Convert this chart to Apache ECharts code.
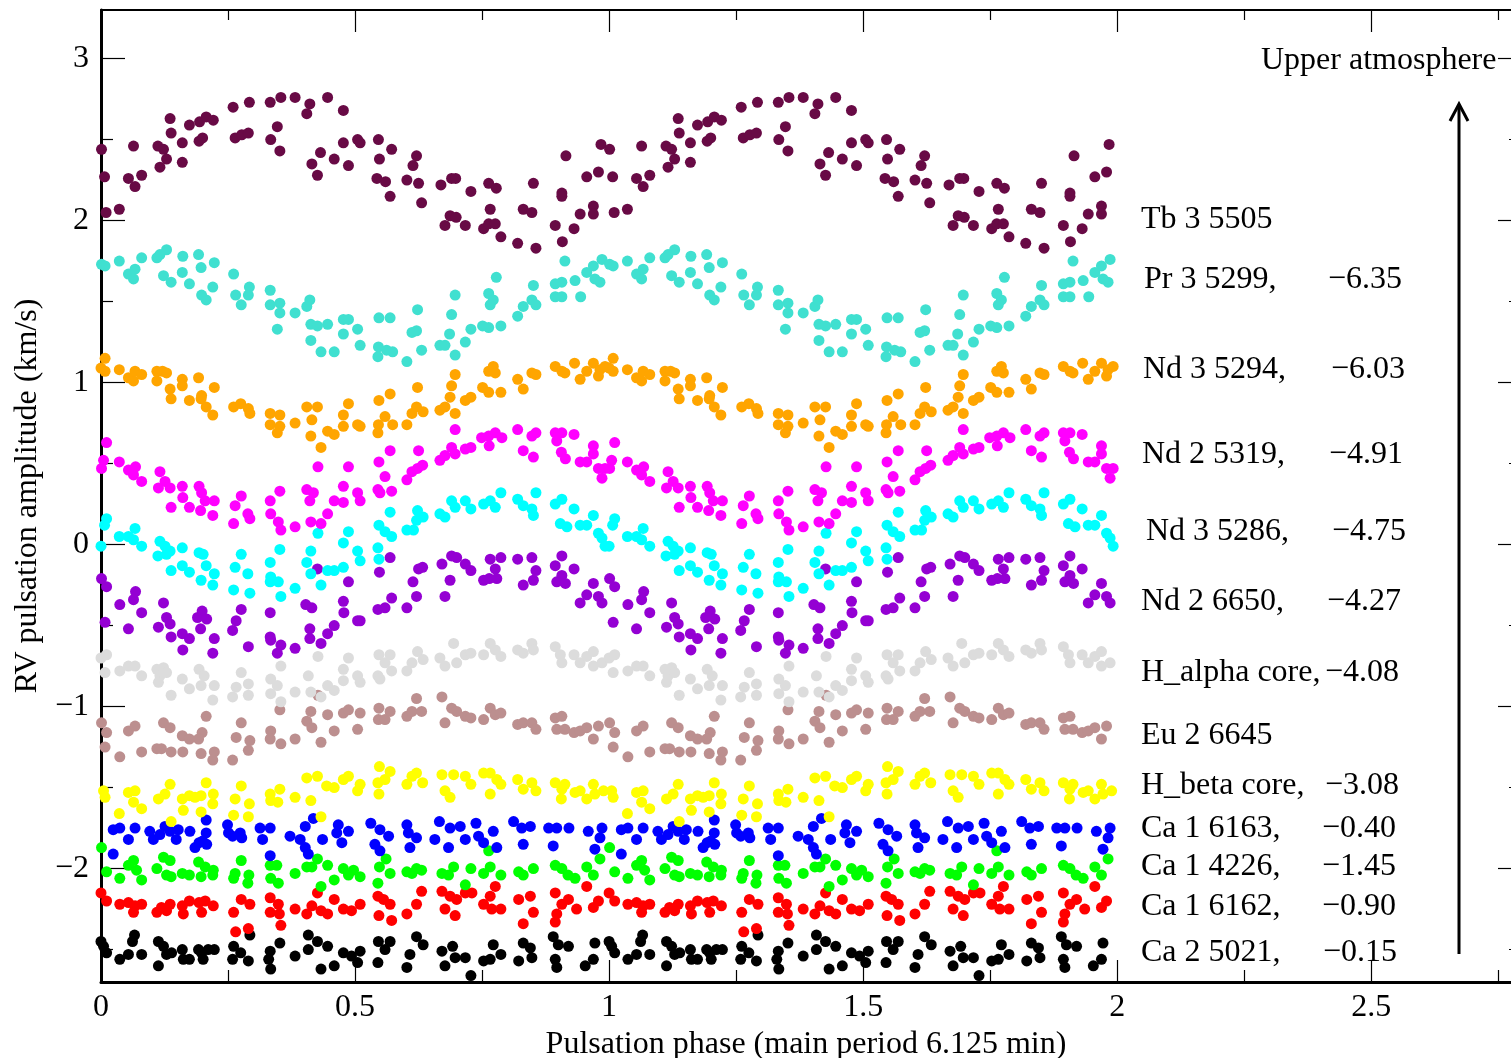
<!DOCTYPE html>
<html>
<head>
<meta charset="utf-8">
<script src="https://cdn.jsdelivr.net/npm/echarts@6/dist/echarts.min.js"></script>
<style>
  html, body { margin: 0; padding: 0; background: #fff; overflow: hidden; }
  #main { width: 1511px; height: 1058px; }
</style>
</head>
<body>
<div id="main"></div>
<script>
// one pulsation cycle per line, [phase, RV]; the plot shows it twice (phase 0-2)
const tb3_5505 = [[0.001,2.44],[0.007,2.27],[0.010,2.05],[0.036,2.07],[0.064,2.46],[0.054,2.26],[0.067,2.21],[0.080,2.28],[0.112,2.46],[0.123,2.44],[0.129,2.38],[0.116,2.33],[0.136,2.63],[0.138,2.54],[0.160,2.48],[0.160,2.36],[0.174,2.59],[0.194,2.61],[0.207,2.64],[0.221,2.62],[0.193,2.49],[0.200,2.51],[0.260,2.70],[0.292,2.73],[0.264,2.51],[0.277,2.53],[0.290,2.54],[0.333,2.73],[0.354,2.76],[0.382,2.76],[0.334,2.50],[0.347,2.58],[0.352,2.43],[0.411,2.72],[0.405,2.66],[0.446,2.76],[0.477,2.68],[0.415,2.35],[0.432,2.42],[0.426,2.28],[0.459,2.38],[0.477,2.48],[0.487,2.34],[0.505,2.50],[0.510,2.48],[0.546,2.50],[0.548,2.38],[0.572,2.44],[0.543,2.26],[0.560,2.24],[0.569,2.15],[0.602,2.25],[0.621,2.40],[0.614,2.34],[0.625,2.23],[0.631,2.11],[0.669,2.22],[0.690,2.26],[0.698,2.26],[0.728,2.18],[0.677,1.97],[0.687,2.03],[0.699,2.02],[0.717,1.97],[0.763,2.23],[0.778,2.20],[0.766,2.07],[0.753,1.95],[0.763,1.98],[0.776,1.98],[0.787,1.90],[0.820,1.86],[0.831,2.07],[0.848,2.05],[0.851,2.23],[0.856,1.83],[0.907,2.17],[0.907,2.15],[0.915,2.40],[0.894,1.97],[0.908,1.87],[0.931,1.95],[0.943,2.04],[0.956,2.27],[0.969,2.09],[0.969,2.04],[0.979,2.30],[0.984,2.47]];

const pr3_5299 = [[0.001,1.73],[0.008,1.72],[0.036,1.75],[0.054,1.67],[0.064,1.64],[0.067,1.70],[0.080,1.77],[0.110,1.77],[0.116,1.79],[0.129,1.82],[0.123,1.66],[0.138,1.62],[0.161,1.78],[0.160,1.68],[0.174,1.61],[0.192,1.79],[0.197,1.71],[0.223,1.74],[0.198,1.54],[0.207,1.51],[0.220,1.59],[0.261,1.67],[0.265,1.54],[0.276,1.48],[0.290,1.54],[0.292,1.59],[0.333,1.57],[0.333,1.48],[0.352,1.49],[0.352,1.43],[0.347,1.33],[0.382,1.43],[0.405,1.47],[0.411,1.51],[0.413,1.36],[0.426,1.35],[0.446,1.36],[0.433,1.19],[0.413,1.26],[0.459,1.19],[0.477,1.39],[0.487,1.39],[0.477,1.30],[0.505,1.33],[0.510,1.23],[0.547,1.40],[0.569,1.40],[0.546,1.22],[0.545,1.16],[0.562,1.20],[0.574,1.19],[0.602,1.13],[0.612,1.31],[0.621,1.32],[0.623,1.45],[0.631,1.20],[0.667,1.23],[0.677,1.23],[0.686,1.30],[0.690,1.42],[0.697,1.54],[0.697,1.17],[0.717,1.25],[0.728,1.33],[0.751,1.35],[0.763,1.34],[0.763,1.55],[0.772,1.51],[0.766,1.48],[0.778,1.65],[0.787,1.35],[0.820,1.41],[0.831,1.47],[0.848,1.51],[0.856,1.48],[0.851,1.60],[0.894,1.61],[0.907,1.62],[0.894,1.53],[0.907,1.53],[0.913,1.75],[0.933,1.63],[0.944,1.53],[0.956,1.68],[0.969,1.72],[0.972,1.64],[0.982,1.62],[0.986,1.76]];

const nd3_5294 = [[0.008,1.15],[0.000,1.09],[0.008,1.07],[0.036,1.08],[0.054,1.03],[0.064,1.01],[0.067,1.07],[0.080,1.05],[0.110,1.07],[0.110,1.01],[0.121,1.07],[0.129,1.06],[0.136,0.96],[0.138,0.90],[0.160,1.02],[0.160,0.98],[0.174,0.89],[0.192,1.03],[0.198,0.92],[0.197,0.90],[0.207,0.85],[0.223,0.97],[0.220,0.80],[0.261,0.85],[0.275,0.87],[0.290,0.84],[0.293,0.81],[0.333,0.81],[0.352,0.80],[0.333,0.74],[0.352,0.73],[0.347,0.69],[0.382,0.75],[0.405,0.85],[0.426,0.85],[0.415,0.77],[0.413,0.67],[0.433,0.60],[0.446,0.70],[0.459,0.68],[0.477,0.80],[0.487,0.87],[0.477,0.73],[0.505,0.74],[0.510,0.73],[0.547,0.89],[0.569,0.93],[0.559,0.79],[0.546,0.74],[0.545,0.69],[0.574,0.74],[0.602,0.74],[0.612,0.81],[0.621,0.85],[0.623,0.97],[0.634,0.82],[0.667,0.83],[0.677,0.85],[0.687,0.91],[0.690,0.98],[0.697,1.05],[0.697,0.81],[0.717,0.89],[0.728,0.91],[0.751,0.97],[0.763,0.94],[0.763,1.07],[0.772,1.10],[0.776,1.06],[0.787,0.94],[0.820,1.02],[0.831,0.96],[0.848,1.06],[0.856,1.05],[0.894,1.10],[0.907,1.07],[0.913,1.06],[0.932,1.12],[0.943,1.02],[0.956,1.07],[0.969,1.12],[0.979,1.04],[0.982,1.08],[0.992,1.10]];

const nd2_5319 = [[0.011,0.63],[0.005,0.52],[0.001,0.47],[0.036,0.51],[0.054,0.46],[0.064,0.43],[0.068,0.48],[0.080,0.39],[0.116,0.45],[0.113,0.35],[0.126,0.39],[0.136,0.35],[0.160,0.36],[0.161,0.29],[0.174,0.23],[0.138,0.23],[0.193,0.36],[0.198,0.32],[0.205,0.27],[0.223,0.27],[0.196,0.21],[0.220,0.18],[0.276,0.30],[0.264,0.24],[0.261,0.13],[0.289,0.19],[0.293,0.16],[0.333,0.27],[0.352,0.33],[0.334,0.19],[0.349,0.14],[0.354,0.09],[0.382,0.11],[0.405,0.34],[0.418,0.32],[0.411,0.27],[0.427,0.48],[0.413,0.14],[0.433,0.13],[0.446,0.19],[0.459,0.27],[0.477,0.26],[0.477,0.36],[0.487,0.48],[0.505,0.32],[0.510,0.27],[0.547,0.51],[0.569,0.58],[0.559,0.42],[0.545,0.34],[0.549,0.32],[0.572,0.33],[0.602,0.40],[0.612,0.45],[0.623,0.47],[0.625,0.58],[0.633,0.49],[0.667,0.52],[0.677,0.55],[0.690,0.60],[0.697,0.56],[0.697,0.71],[0.717,0.59],[0.728,0.60],[0.749,0.66],[0.763,0.67],[0.776,0.69],[0.789,0.66],[0.764,0.61],[0.820,0.71],[0.831,0.58],[0.848,0.67],[0.856,0.69],[0.851,0.54],[0.894,0.69],[0.907,0.69],[0.897,0.64],[0.906,0.57],[0.914,0.53],[0.931,0.68],[0.943,0.51],[0.956,0.51],[0.969,0.61],[0.969,0.56],[0.979,0.47],[0.986,0.41],[0.992,0.47]];

const nd3_5286 = [[0.011,0.16],[0.007,0.12],[0.000,-0.01],[0.036,0.05],[0.054,0.05],[0.067,0.10],[0.064,0.03],[0.080,-0.01],[0.116,0.02],[0.112,-0.07],[0.126,-0.01],[0.136,-0.04],[0.129,-0.06],[0.138,-0.16],[0.160,-0.02],[0.160,-0.13],[0.174,-0.17],[0.193,-0.05],[0.201,-0.06],[0.207,-0.13],[0.223,-0.18],[0.197,-0.22],[0.220,-0.25],[0.276,-0.06],[0.264,-0.14],[0.261,-0.28],[0.289,-0.18],[0.293,-0.30],[0.333,-0.11],[0.352,-0.03],[0.334,-0.20],[0.333,-0.23],[0.349,-0.23],[0.354,-0.32],[0.382,-0.27],[0.413,-0.04],[0.405,-0.11],[0.413,-0.18],[0.427,0.07],[0.433,-0.25],[0.446,-0.16],[0.459,-0.16],[0.477,-0.14],[0.477,0.01],[0.487,0.08],[0.505,-0.04],[0.510,-0.10],[0.547,0.12],[0.569,0.20],[0.559,0.08],[0.572,0.05],[0.545,-0.02],[0.547,-0.09],[0.602,0.09],[0.615,0.09],[0.623,0.21],[0.621,0.15],[0.634,0.17],[0.667,0.19],[0.677,0.17],[0.690,0.27],[0.697,0.23],[0.717,0.27],[0.728,0.22],[0.753,0.25],[0.766,0.27],[0.776,0.23],[0.787,0.32],[0.820,0.28],[0.831,0.24],[0.848,0.22],[0.851,0.18],[0.856,0.32],[0.894,0.25],[0.907,0.28],[0.904,0.13],[0.917,0.11],[0.931,0.22],[0.943,0.12],[0.956,0.12],[0.969,0.18],[0.979,0.07],[0.986,0.04],[0.992,-0.01]];

const nd2_6650 = [[0.001,-0.21],[0.011,-0.26],[0.008,-0.48],[0.037,-0.37],[0.054,-0.52],[0.064,-0.34],[0.068,-0.29],[0.080,-0.42],[0.113,-0.51],[0.123,-0.36],[0.129,-0.45],[0.138,-0.57],[0.136,-0.49],[0.160,-0.55],[0.161,-0.65],[0.174,-0.58],[0.190,-0.45],[0.199,-0.41],[0.208,-0.46],[0.196,-0.52],[0.223,-0.58],[0.220,-0.67],[0.276,-0.40],[0.266,-0.47],[0.259,-0.53],[0.290,-0.63],[0.333,-0.42],[0.333,-0.57],[0.334,-0.59],[0.354,-0.62],[0.347,-0.67],[0.382,-0.64],[0.403,-0.37],[0.415,-0.39],[0.411,-0.52],[0.411,-0.58],[0.433,-0.61],[0.446,-0.55],[0.459,-0.50],[0.477,-0.35],[0.478,-0.42],[0.487,-0.23],[0.426,-0.15],[0.505,-0.47],[0.510,-0.47],[0.548,-0.17],[0.569,-0.08],[0.545,-0.40],[0.559,-0.39],[0.572,-0.33],[0.602,-0.39],[0.614,-0.23],[0.621,-0.32],[0.625,-0.15],[0.633,-0.14],[0.671,-0.12],[0.677,-0.32],[0.687,-0.22],[0.690,-0.07],[0.700,-0.08],[0.717,-0.12],[0.728,-0.16],[0.753,-0.22],[0.766,-0.09],[0.776,-0.15],[0.764,-0.21],[0.787,-0.08],[0.779,-0.21],[0.820,-0.09],[0.831,-0.25],[0.848,-0.08],[0.851,-0.22],[0.856,-0.16],[0.894,-0.13],[0.907,-0.07],[0.907,-0.19],[0.897,-0.23],[0.914,-0.24],[0.931,-0.15],[0.943,-0.36],[0.956,-0.31],[0.969,-0.24],[0.979,-0.32],[0.986,-0.36]];

const halpha_core = [[0.000,-0.70],[0.011,-0.68],[0.008,-0.79],[0.037,-0.78],[0.054,-0.75],[0.067,-0.75],[0.080,-0.81],[0.110,-0.77],[0.123,-0.76],[0.116,-0.81],[0.113,-0.85],[0.129,-0.79],[0.138,-0.93],[0.160,-0.83],[0.174,-0.89],[0.193,-0.77],[0.203,-0.81],[0.197,-0.87],[0.223,-0.87],[0.220,-0.96],[0.276,-0.79],[0.266,-0.88],[0.259,-0.94],[0.290,-0.86],[0.290,-0.93],[0.334,-0.83],[0.354,-0.75],[0.334,-0.92],[0.347,-0.87],[0.354,-0.97],[0.382,-0.91],[0.408,-0.81],[0.413,-0.91],[0.427,-0.69],[0.433,-0.94],[0.446,-0.87],[0.459,-0.90],[0.477,-0.77],[0.477,-0.84],[0.487,-0.70],[0.505,-0.81],[0.510,-0.85],[0.547,-0.68],[0.569,-0.68],[0.559,-0.73],[0.572,-0.78],[0.545,-0.81],[0.549,-0.83],[0.602,-0.78],[0.612,-0.73],[0.623,-0.66],[0.634,-0.71],[0.667,-0.70],[0.677,-0.75],[0.694,-0.61],[0.700,-0.73],[0.717,-0.68],[0.728,-0.67],[0.753,-0.68],[0.766,-0.61],[0.776,-0.65],[0.787,-0.69],[0.820,-0.65],[0.831,-0.67],[0.848,-0.61],[0.851,-0.65],[0.894,-0.63],[0.904,-0.68],[0.907,-0.73],[0.931,-0.68],[0.943,-0.73],[0.956,-0.69],[0.969,-0.66],[0.969,-0.75],[0.986,-0.73]];

const eu2_6645 = [[0.001,-1.10],[0.011,-1.16],[0.008,-1.25],[0.037,-1.31],[0.054,-1.15],[0.067,-1.12],[0.080,-1.28],[0.110,-1.26],[0.123,-1.10],[0.136,-1.13],[0.119,-1.26],[0.138,-1.28],[0.160,-1.18],[0.174,-1.20],[0.161,-1.28],[0.199,-1.16],[0.207,-1.06],[0.192,-1.20],[0.197,-1.29],[0.223,-1.28],[0.220,-1.33],[0.276,-1.10],[0.266,-1.19],[0.259,-1.33],[0.293,-1.21],[0.290,-1.27],[0.334,-1.15],[0.352,-1.02],[0.333,-1.20],[0.354,-1.23],[0.382,-1.20],[0.413,-1.03],[0.405,-1.09],[0.415,-1.13],[0.427,-0.93],[0.433,-1.22],[0.446,-1.05],[0.459,-1.15],[0.477,-1.04],[0.487,-1.02],[0.510,-1.04],[0.505,-1.14],[0.547,-1.01],[0.569,-1.03],[0.546,-1.08],[0.559,-1.08],[0.602,-1.06],[0.612,-1.03],[0.621,-0.95],[0.631,-1.03],[0.671,-0.94],[0.677,-1.10],[0.690,-1.01],[0.700,-1.03],[0.717,-1.06],[0.728,-1.07],[0.753,-1.08],[0.766,-1.01],[0.776,-1.05],[0.787,-1.04],[0.820,-1.11],[0.831,-1.10],[0.848,-1.10],[0.856,-1.14],[0.894,-1.07],[0.907,-1.06],[0.897,-1.14],[0.913,-1.14],[0.931,-1.16],[0.943,-1.15],[0.956,-1.13],[0.969,-1.20],[0.979,-1.12]];

const hbeta_core = [[0.005,-1.52],[0.008,-1.56],[0.036,-1.66],[0.054,-1.53],[0.067,-1.52],[0.064,-1.59],[0.080,-1.63],[0.113,-1.57],[0.126,-1.54],[0.136,-1.48],[0.138,-1.71],[0.160,-1.57],[0.162,-1.64],[0.174,-1.55],[0.185,-1.56],[0.197,-1.55],[0.207,-1.47],[0.197,-1.65],[0.221,-1.54],[0.220,-1.60],[0.276,-1.49],[0.264,-1.57],[0.261,-1.67],[0.292,-1.60],[0.290,-1.68],[0.333,-1.54],[0.352,-1.51],[0.334,-1.58],[0.348,-1.59],[0.382,-1.56],[0.405,-1.44],[0.426,-1.43],[0.413,-1.58],[0.433,-1.68],[0.444,-1.49],[0.459,-1.50],[0.477,-1.45],[0.487,-1.43],[0.510,-1.48],[0.505,-1.52],[0.548,-1.37],[0.569,-1.40],[0.559,-1.45],[0.545,-1.47],[0.547,-1.54],[0.602,-1.48],[0.612,-1.43],[0.621,-1.41],[0.633,-1.47],[0.671,-1.42],[0.694,-1.42],[0.677,-1.52],[0.687,-1.56],[0.717,-1.43],[0.728,-1.48],[0.753,-1.41],[0.766,-1.41],[0.779,-1.45],[0.787,-1.48],[0.766,-1.54],[0.820,-1.45],[0.831,-1.51],[0.848,-1.47],[0.856,-1.52],[0.894,-1.47],[0.907,-1.51],[0.906,-1.57],[0.913,-1.48],[0.933,-1.53],[0.943,-1.52],[0.956,-1.57],[0.969,-1.48],[0.972,-1.54],[0.989,-1.52]];

const ca1_6163 = [[0.024,-1.76],[0.037,-1.75],[0.024,-1.91],[0.054,-1.82],[0.067,-1.75],[0.096,-1.77],[0.103,-1.82],[0.116,-1.79],[0.126,-1.74],[0.136,-1.77],[0.148,-1.82],[0.152,-1.76],[0.175,-1.77],[0.185,-1.87],[0.193,-1.84],[0.207,-1.70],[0.207,-1.78],[0.200,-1.83],[0.208,-1.85],[0.249,-1.73],[0.251,-1.78],[0.274,-1.78],[0.259,-1.80],[0.277,-1.81],[0.313,-1.75],[0.333,-1.75],[0.318,-1.82],[0.333,-1.92],[0.372,-1.80],[0.392,-1.82],[0.402,-1.74],[0.418,-1.69],[0.402,-1.87],[0.408,-1.91],[0.436,-1.82],[0.467,-1.73],[0.464,-1.78],[0.474,-1.84],[0.487,-1.77],[0.531,-1.72],[0.549,-1.76],[0.566,-1.80],[0.539,-1.85],[0.549,-1.89],[0.602,-1.73],[0.605,-1.78],[0.621,-1.81],[0.608,-1.87],[0.666,-1.71],[0.687,-1.75],[0.707,-1.74],[0.657,-1.82],[0.684,-1.87],[0.717,-1.82],[0.738,-1.72],[0.743,-1.80],[0.753,-1.84],[0.772,-1.77],[0.779,-1.87],[0.812,-1.71],[0.828,-1.75],[0.845,-1.74],[0.831,-1.85],[0.881,-1.75],[0.897,-1.75],[0.921,-1.75],[0.890,-1.86],[0.959,-1.77],[0.982,-1.81],[0.972,-1.88],[0.986,-1.75]];

const ca1_4226 = [[0.001,-1.87],[0.011,-2.02],[0.037,-2.06],[0.054,-1.98],[0.064,-1.95],[0.070,-2.01],[0.080,-2.07],[0.110,-2.00],[0.123,-1.93],[0.136,-1.95],[0.129,-2.04],[0.138,-2.05],[0.160,-2.03],[0.174,-2.04],[0.192,-1.96],[0.205,-1.99],[0.197,-2.05],[0.221,-2.01],[0.220,-2.04],[0.276,-1.95],[0.264,-2.03],[0.261,-2.06],[0.291,-2.04],[0.289,-2.09],[0.333,-1.98],[0.346,-1.98],[0.334,-2.06],[0.349,-2.09],[0.382,-2.03],[0.405,-1.99],[0.426,-1.94],[0.415,-1.99],[0.446,-1.98],[0.459,-2.07],[0.433,-2.11],[0.477,-2.00],[0.497,-2.01],[0.487,-2.04],[0.510,-2.05],[0.548,-1.99],[0.561,-1.94],[0.569,-2.03],[0.545,-2.09],[0.602,-2.02],[0.621,-2.00],[0.631,-2.01],[0.612,-2.03],[0.671,-2.03],[0.694,-1.99],[0.684,-2.04],[0.717,-2.10],[0.728,-2.00],[0.753,-2.03],[0.766,-1.99],[0.787,-2.04],[0.763,-1.89],[0.822,-2.02],[0.831,-2.04],[0.851,-2.00],[0.894,-1.98],[0.907,-2.00],[0.919,-2.04],[0.933,-2.06],[0.956,-1.99],[0.969,-2.04],[0.982,-1.94]];

const ca1_6162 = [[0.000,-2.15],[0.011,-2.20],[0.037,-2.22],[0.054,-2.21],[0.067,-2.23],[0.064,-2.27],[0.080,-2.22],[0.110,-2.27],[0.119,-2.24],[0.136,-2.22],[0.129,-2.26],[0.160,-2.23],[0.162,-2.28],[0.174,-2.20],[0.193,-2.21],[0.205,-2.20],[0.198,-2.27],[0.221,-2.23],[0.276,-2.19],[0.293,-2.22],[0.261,-2.27],[0.265,-2.39],[0.290,-2.37],[0.333,-2.18],[0.349,-2.22],[0.333,-2.27],[0.351,-2.28],[0.354,-2.35],[0.382,-2.25],[0.405,-2.28],[0.426,-2.15],[0.415,-2.23],[0.433,-2.26],[0.446,-2.28],[0.459,-2.19],[0.477,-2.25],[0.493,-2.26],[0.510,-2.22],[0.545,-2.17],[0.556,-2.19],[0.569,-2.22],[0.547,-2.29],[0.572,-2.32],[0.602,-2.28],[0.621,-2.22],[0.631,-2.14],[0.671,-2.14],[0.687,-2.17],[0.700,-2.19],[0.677,-2.25],[0.697,-2.29],[0.717,-2.15],[0.730,-2.15],[0.753,-2.22],[0.766,-2.17],[0.776,-2.11],[0.769,-2.25],[0.787,-2.25],[0.822,-2.19],[0.845,-2.17],[0.831,-2.34],[0.851,-2.27],[0.894,-2.15],[0.907,-2.22],[0.897,-2.28],[0.894,-2.33],[0.920,-2.19],[0.956,-2.11],[0.936,-2.25],[0.969,-2.24],[0.979,-2.20]];

const ca2_5021 = [[0.000,-2.45],[0.011,-2.52],[0.005,-2.48],[0.037,-2.56],[0.054,-2.53],[0.066,-2.41],[0.062,-2.45],[0.080,-2.53],[0.113,-2.45],[0.113,-2.60],[0.123,-2.48],[0.129,-2.53],[0.139,-2.52],[0.160,-2.50],[0.162,-2.56],[0.174,-2.56],[0.192,-2.50],[0.201,-2.56],[0.211,-2.50],[0.223,-2.50],[0.198,-2.52],[0.261,-2.48],[0.259,-2.56],[0.275,-2.52],[0.290,-2.57],[0.293,-2.41],[0.333,-2.51],[0.352,-2.46],[0.330,-2.56],[0.334,-2.62],[0.382,-2.54],[0.408,-2.41],[0.426,-2.45],[0.408,-2.50],[0.433,-2.62],[0.446,-2.48],[0.459,-2.60],[0.477,-2.52],[0.493,-2.54],[0.510,-2.51],[0.505,-2.58],[0.546,-2.45],[0.569,-2.45],[0.559,-2.50],[0.545,-2.58],[0.602,-2.61],[0.608,-2.53],[0.621,-2.42],[0.634,-2.47],[0.671,-2.51],[0.692,-2.48],[0.697,-2.55],[0.677,-2.60],[0.717,-2.55],[0.728,-2.66],[0.753,-2.57],[0.766,-2.56],[0.772,-2.47],[0.787,-2.53],[0.822,-2.57],[0.831,-2.46],[0.845,-2.49],[0.848,-2.55],[0.890,-2.42],[0.900,-2.47],[0.920,-2.48],[0.894,-2.56],[0.897,-2.61],[0.953,-2.60],[0.969,-2.56],[0.972,-2.46]];

// top to bottom, as listed at the right
const lineData = [tb3_5505, pr3_5299, nd3_5294, nd2_5319, nd3_5286, nd2_6650, halpha_core, eu2_6645, hbeta_core, ca1_6163, ca1_4226, ca1_6162, ca2_5021];
const lineNames = ['Tb 3 5505', 'Pr 3 5299,', 'Nd 3 5294,', 'Nd 2 5319,', 'Nd 3 5286,', 'Nd 2 6650,', 'H_alpha core,', 'Eu 2 6645', 'H_beta core,', 'Ca 1 6163,', 'Ca 1 4226,', 'Ca 1 6162,', 'Ca 2 5021,'];
const lineDepths = ['', '−6.35', '−6.03', '−4.91', '−4.75', '−4.27', '−4.08', '', '−3.08', '−0.40', '−1.45', '−0.90', '−0.15'];
const lineColors = ['#680a45', '#40e0d0', '#ffa500', '#ff00ff', '#00ffff', '#9400d3', '#dcdcdc', '#bc8f8f', '#ffff00', '#0000ff', '#00ff00', '#ff0000', '#000000'];

const majorX = [0, 0.5, 1, 1.5, 2, 2.5];
const minorX = [0.25, 0.75, 1.25, 1.75, 2.25, 2.75];
const majorY = [-2, -1, 0, 1, 2, 3];
const minorY = [-2.5, -1.5, -0.5, 0.5, 1.5, 2.5];

// label layout (px)
const nameLeft = [1141, 1144, 1143, 1142, 1146, 1141, 1141, 1141, 1141, 1141, 1141, 1141, 1141];
const depthLeft = [0, 1328, 1331, 1329, 1332, 1327, 1325, 0, 1325, 1322, 1322, 1322, 1323];
const labelMid = [217, 277, 367, 452, 529, 599, 670, 733, 783, 826, 864, 904, 950];

const FONT = "'Liberation Serif', 'Times New Roman', serif";
const FS = 32;

function minus(v) {
  return v < 0 ? '−' + Math.abs(v) : String(v);
}

function axisX(pos, ticks, len, lineW, labels) {
  return {
    type: 'value', min: 0, max: 2.775, position: pos,
    axisLine: { show: lineW > 0, onZero: false, lineStyle: { color: '#000', width: lineW } },
    axisTick: { inside: true, length: len, customValues: ticks, lineStyle: { color: '#000', width: 1.2 } },
    axisLabel: labels ? { customValues: majorX, formatter: minus, color: '#000', fontFamily: FONT, fontSize: FS, margin: 10 } : { show: false },
    splitLine: { show: false }
  };
}
function axisY(pos, ticks, len, lineW, labels) {
  return {
    type: 'value', min: -2.7, max: 3.3, position: pos,
    axisLine: { show: lineW > 0, onZero: false, lineStyle: { color: '#000', width: lineW } },
    axisTick: { inside: true, length: len, customValues: ticks, lineStyle: { color: '#000', width: 1.2 } },
    axisLabel: labels ? { customValues: majorY, formatter: minus, color: '#000', fontFamily: FONT, fontSize: FS, margin: 12 } : { show: false },
    splitLine: { show: false }
  };
}

const xAxes = [
  axisX('bottom', majorX, 22, 3, true),
  axisX('bottom', minorX, 12, 0, false),
  axisX('top', majorX, 22, 2, false),
  axisX('top', minorX, 10, 0, false)
];
Object.assign(xAxes[0], {
  name: 'Pulsation phase (main period 6.125 min)', nameLocation: 'middle', nameGap: 44,
  nameTextStyle: { color: '#000', fontFamily: FONT, fontSize: FS }
});
// the right frame sits just past the picture edge, only the tick ends show
const yAxes = [
  axisY('left', majorY, 24, 3, true),
  axisY('left', minorY, 12, 0, false),
  axisY('right', majorY, 13, 0, false),
  axisY('right', minorY, 2, 0, false)
];
Object.assign(yAxes[0], {
  name: 'RV pulsation amplitude (km/s)', nameLocation: 'middle', nameGap: 53, nameRotate: 90,
  nameTextStyle: { color: '#000', fontFamily: FONT, fontSize: FS }
});

// draw bottom line first, upper lines on top
const series = [];
for (let i = lineData.length - 1; i >= 0; i--) {
  const pts = lineData[i].concat(lineData[i].map(p => [p[0] + 1, p[1]]));
  series.push({
    name: lineNames[i], type: 'scatter', data: pts,
    symbol: 'circle', symbolSize: 11, clip: false,
    itemStyle: { color: lineColors[i], opacity: 1 },
    xAxisIndex: 0, yAxisIndex: 0
  });
}

const graphics = [];
lineNames.forEach((n, i) => {
  graphics.push({ type: 'text', left: nameLeft[i], top: labelMid[i] - 13, style: { text: n, fill: '#000', font: FS + 'px ' + FONT } });
  if (lineDepths[i]) {
    graphics.push({ type: 'text', left: depthLeft[i], top: labelMid[i] - 13, style: { text: lineDepths[i], fill: '#000', font: FS + 'px ' + FONT } });
  }
});
graphics.push({ type: 'text', left: 1261, top: 45, style: { text: 'Upper atmosphere', fill: '#000', font: FS + 'px ' + FONT } });
graphics.push({ type: 'line', shape: { x1: 1459, y1: 954, x2: 1459, y2: 105 }, style: { stroke: '#000', lineWidth: 3 } });
graphics.push({ type: 'polyline', shape: { points: [[1450, 121], [1459, 104], [1468, 121]] }, style: { stroke: '#000', lineWidth: 3, fill: null } });

const chart = echarts.init(document.getElementById('main'), null, { renderer: 'canvas', width: 1511, height: 1058 });
chart.setOption({
  animation: false,
  backgroundColor: '#fff',
  grid: { left: 101, right: 0, top: 10, bottom: 76, containLabel: false, outerBoundsMode: 'none' },
  xAxis: xAxes,
  yAxis: yAxes,
  series: series,
  graphic: graphics
});
</script>
</body>
</html>
